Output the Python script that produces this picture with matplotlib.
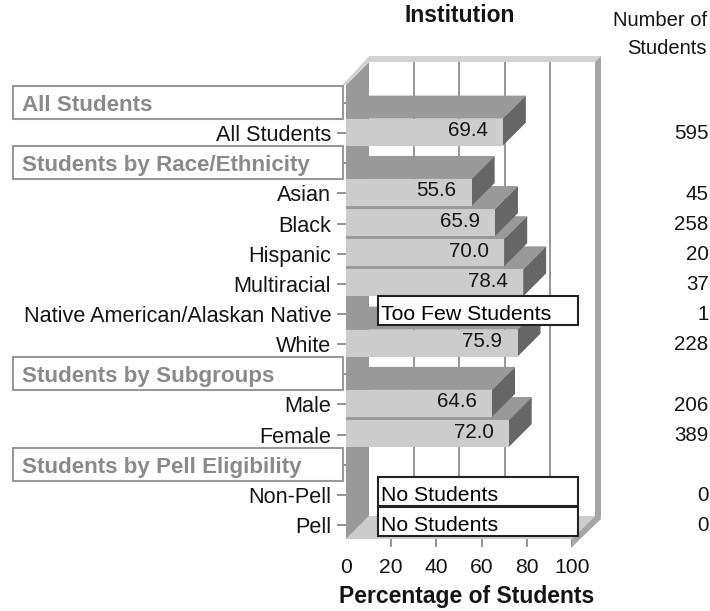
import matplotlib
matplotlib.use("Agg")
import matplotlib.pyplot as plt
from matplotlib.patches import Polygon, Rectangle

plt.rcParams['font.family'] = ['Liberation Sans', 'DejaVu Sans']

rows = ["All Students", "All Students", "Students by Race/Ethnicity", "Asian", "Black", "Hispanic",
        "Multiracial", "Native American/Alaskan Native", "White", "Students by Subgroups",
        "Male", "Female", "Students by Pell Eligibility", "Non-Pell", "Pell"]
is_header = [True, False, True, False, False, False, False, False, False, True, False, False, True, False, False]
values = [None, 69.4, None, 55.6, 65.9, 70.0, 78.4, None, 75.9, None, 64.6, 72.0, None, None, None]
notes = [None, None, None, None, None, None, None, "Too Few Students", None, None, None, None, None, "No Students", "No Students"]
counts = [None, 595, None, 45, 258, 20, 37, 1, 228, None, 206, 389, None, 0, 0]
xticks = [0, 20, 40, 60, 80, 100]

W, H = 710, 611
X0, X1, YT, YB = 346, 572, 85, 539
ROW0, STEP = 103.0, 30.14
DEPTH = 23
fs = 15.6
fs_bold = 16.5
fs_head = 16.1
fs_val = 14.8
fs_note = 15.3
TXT = "#151515"

fig = plt.figure(figsize=(W / 100, H / 100), dpi=100)
ax = fig.add_axes([X0 / W, 1 - YB / H, (X1 - X0) / W, (YB - YT) / H])
ax.set_xlim(0, 100)
ax.set_ylim((YB - ROW0) / STEP, (YT - ROW0) / STEP)
ax.patch.set_visible(False)
for s in ax.spines.values():
    s.set_visible(False)

px_x = 100 / (X1 - X0)
px_y = 1 / STEP
dx = DEPTH * px_x
dy = DEPTH * px_y
y_top, y_bot = ax.get_ylim()[1], ax.get_ylim()[0]

LIGHT, MID, DARK = "#CCCCCC", "#999999", "#666666"


def poly(pts, color, z):
    ax.add_patch(Polygon(pts, closed=True, facecolor=color, edgecolor="none", zorder=z, clip_on=False))


# chart box: floor, left wall, frame
poly([(0, y_bot), (dx, y_bot - dy), (100 + dx, y_bot - dy), (100, y_bot)], LIGHT, 1)
poly([(0, y_top), (dx, y_top - dy), (dx, y_bot - dy), (0, y_bot)], MID, 1.5)
poly([(-1.5, y_top), (dx, y_top - dy - 6 * px_y), (100 + dx + 6 * px_x, y_top - dy - 6 * px_y),
      (100 + dx, y_top - dy), (dx, y_top - dy), (0, y_top)], "#D2D2D2", 1.6)
poly([(100 + dx, y_top - dy), (100 + dx + 6 * px_x, y_top - dy - 6 * px_y),
      (100 + dx + 6 * px_x, y_bot - dy + 3 * px_y), (100, y_bot + 8 * px_y), (100, y_bot),
      (100 + dx, y_bot - dy)], "#A6A6A6", 1.6)
for t in xticks[1:-1]:
    ax.plot([t + dx, t + dx], [y_top - dy, y_bot - dy], color="#858585", lw=1.2, zorder=1.2, clip_on=False)

# bars: lower rows are drawn first, upper rows sit in front of them
h = 27 * px_y
shift = -1 * px_y
for i, v in enumerate(values):
    if v is None:
        continue
    top, bot = i + shift - h / 2, i + shift + h / 2
    z = 4 - i * 0.1
    poly([(0, top), (dx, top - dy), (v + dx, top - dy), (v, top)], MID, z)
    poly([(v, top), (v + dx, top - dy), (v + dx, bot - dy), (v, bot)], DARK, z)
    ax.barh(i + shift, v, height=h, color=LIGHT, zorder=z + 0.01)
    ax.annotate(f"{v:.1f}", (v, i), xytext=(-11, 1.8), textcoords="offset points", ha="right", va="center",
                fontsize=fs_val, color=TXT, zorder=5)

# note boxes
for i, n in enumerate(notes):
    if n is None:
        continue
    ax.text(15.4, i + 1 * px_y, n, ha="left", va="center", fontsize=fs_note, color="black", zorder=6.1)
    ax.add_patch(Rectangle((32 * px_x, i - 18 * px_y), 200 * px_x, 29 * px_y, facecolor="white",
                           edgecolor="#222222", lw=1.5, zorder=6, clip_on=False))

# axes ticks and labels
ax.set_yticks(range(len(rows)))
ax.set_yticklabels([("" if b else r) for r, b in zip(rows, is_header)], fontsize=fs, color=TXT)
ax.set_xticks(xticks)
ax.set_xticklabels([str(t) for t in xticks], fontsize=fs_val + 0.4, color=TXT)
ax.tick_params(axis="y", length=6.5, width=1.1, color="#777777", pad=4.2)
ax.tick_params(axis="x", length=6, width=1.1, color="#777777", pad=8)
ax.xaxis.get_major_ticks()[0].tick1line.set_visible(False)

# group header boxes
for i, b in enumerate(is_header):
    if b:
        ax.text(-324 * px_x, i + 2.5 * px_y, rows[i], ha="left", va="center", fontsize=fs_head,
                fontweight="bold", color="#8A8A8A", zorder=7, clip_on=False)
        ax.add_patch(Rectangle((-333 * px_x, i - 17 * px_y), 330 * px_x, 33 * px_y, facecolor="white",
                               edgecolor="#999999", lw=1.5, zorder=6.5, clip_on=False))

# count column
for i, c in enumerate(counts):
    if c is not None:
        fig.text(708.5 / W, 1 - (ROW0 + 0.7 + STEP * i) / H, str(c), ha="right", va="center", fontsize=fs_val, color=TXT)

fig.text(460 / W, 1 - 16 / H, "Institution", ha="center", va="center", fontsize=fs_bold, fontweight="bold", color=TXT)
fig.text(707 / W, 1 - 21 / H, "Number of", ha="right", va="center", fontsize=fs_val - 0.3, color=TXT)
fig.text(707 / W, 1 - 48 / H, "Students", ha="right", va="center", fontsize=fs_val - 0.3, color=TXT)
fig.text(467 / W, 1 - 597 / H, "Percentage of Students", ha="center", va="center", fontsize=fs_bold, fontweight="bold", color=TXT)

fig.savefig("out.png", dpi=100, facecolor="white")
